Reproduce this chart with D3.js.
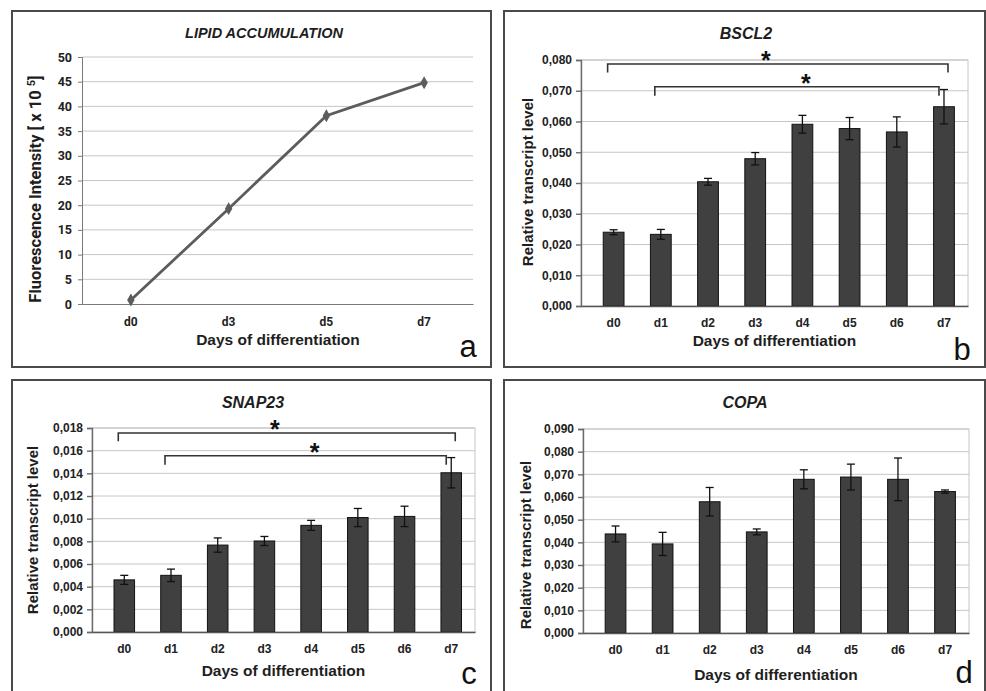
<!DOCTYPE html>
<html>
<head>
<meta charset="utf-8">
<script src="https://d3js.org/d3.v7.min.js"></script>
<style>
  body { margin:0; background:#fff; }
  svg { display:block; }
  text { fill:#1e1e1e; }
  .arial { font-family: "Liberation Sans", Arial, sans-serif; font-weight: bold; }
  .calib { font-family: Roboto, "Liberation Sans", sans-serif; font-weight: bold; }
  .grid line { stroke:#c6c6c6; stroke-width:1; }
</style>
</head>
<body>
<script>
  // ---- data ----
  var lipidDays = ["d0", "d3", "d5", "d7"];
  var lipidValues = [0.8, 19.3, 38.1, 44.8];
  var lipidTicks = [0, 5, 10, 15, 20, 25, 30, 35, 40, 45, 50];

  var days = ["d0", "d1", "d2", "d3", "d4", "d5", "d6", "d7"];

  var bsclMean = [0.0240, 0.0233, 0.0404, 0.0479, 0.0591, 0.0577, 0.0566, 0.0648];
  var bsclErr  = [0.0008, 0.0016, 0.0011, 0.0020, 0.0029, 0.0036, 0.0049, 0.0056];
  var bsclTicks = [0, 0.01, 0.02, 0.03, 0.04, 0.05, 0.06, 0.07, 0.08];

  var snapMean = [0.00460, 0.00500, 0.00767, 0.00803, 0.00941, 0.01010, 0.01020, 0.01405];
  var snapErr  = [0.00040, 0.00055, 0.00063, 0.00040, 0.00044, 0.00080, 0.00090, 0.00134];
  var snapTicks = [0, 0.002, 0.004, 0.006, 0.008, 0.010, 0.012, 0.014, 0.016, 0.018];

  var copaMean = [0.0437, 0.0393, 0.0579, 0.0446, 0.0678, 0.0688, 0.0678, 0.0624];
  var copaErr  = [0.0035, 0.0051, 0.0063, 0.0013, 0.0042, 0.0057, 0.0094, 0.0007];
  var copaTicks = [0, 0.01, 0.02, 0.03, 0.04, 0.05, 0.06, 0.07, 0.08, 0.09];

  // significance brackets: [from, to, level, leg end]
  var bsclSig = [["d0", "d7", 0.0787, 0.0759], ["d1", "d7", 0.0713, 0.0684]];
  var snapSig = [["d0", "d7", 0.01756, 0.01682], ["d1", "d7", 0.01555, 0.01475]];

  var W = 986, H = 691;
  var svg = d3.select("body").append("svg").attr("width", W).attr("height", H);

  var comma = function(v) { return d3.format(".3f")(v).replace(".", ","); };

  function frame(box, letter, lx, ly) {
    svg.append("rect")
      .attr("x", box[0]).attr("y", box[1])
      .attr("width", box[2] - box[0]).attr("height", box[3] - box[1])
      .attr("fill", "none").attr("stroke", "#4a4a4a").attr("stroke-width", 2);
    svg.append("text")
      .attr("x", lx).attr("y", ly)
      .attr("text-anchor", "middle")
      .style("font-family", "'Liberation Sans', Arial, sans-serif")
      .style("font-size", "31px").style("fill", "#111")
      .text(letter);
  }

  // ---- panel a : line chart ----
  (function() {
    frame([12, 11, 491, 367], "a", 468, 357);
    var x = d3.scaleBand().domain(lipidDays).range([82, 473]);
    var y = d3.scaleLinear().domain([0, 50]).range([304, 57]);

    svg.append("g").attr("class", "grid")
      .selectAll("line").data(lipidTicks.slice(1)).enter().append("line")
      .attr("x1", 82).attr("x2", 473)
      .attr("y1", d => y(d)).attr("y2", d => y(d));

    var ya = svg.append("g").attr("transform", "translate(82,0)")
      .call(d3.axisLeft(y).tickValues(lipidTicks).tickSize(4).tickPadding(6));
    ya.selectAll("path, line").attr("stroke", "#7a7a7a");
    ya.selectAll("text").attr("class", "calib").style("font-size", "12.5px").style("fill", "#222");

    var xa = svg.append("g").attr("transform", "translate(0,304)")
      .call(d3.axisBottom(x).tickSize(0).tickPadding(13));
    xa.select("path").attr("stroke", "#7a7a7a");
    xa.selectAll("text").attr("class", "calib").style("font-size", "12px").style("fill", "#222");

    var line = d3.line().x((d, i) => x(lipidDays[i]) + x.bandwidth() / 2).y(d => y(d));
    svg.append("path").datum(lipidValues)
      .attr("d", line).attr("fill", "none")
      .attr("stroke", "#5c5c5c").attr("stroke-width", 2.8);
    svg.selectAll(".mk").data(lipidValues).enter().append("path")
      .attr("class", "mk")
      .attr("d", d3.symbol(d3.symbolDiamond, 48))
      .attr("transform", (d, i) => "translate(" + (x(lipidDays[i]) + x.bandwidth() / 2) + "," + y(d) + ")")
      .attr("fill", "#5c5c5c");

    svg.append("text").attr("class", "arial")
      .attr("x", 264).attr("y", 38).attr("text-anchor", "middle")
      .style("font-size", "14.5px").style("font-style", "italic")
      .text("LIPID ACCUMULATION");

    var yl = svg.append("text").attr("class", "calib")
      .attr("transform", "translate(41,189) rotate(-90)")
      .attr("text-anchor", "middle").style("font-size", "16.5px");
    yl.append("tspan").text("Fluorescence Intensity [ x 10 ");
    yl.append("tspan").attr("dy", -6).style("font-size", "11px").text("5");
    yl.append("tspan").attr("dy", 6).text("]");

    svg.append("text").attr("class", "arial")
      .attr("x", 278).attr("y", 345).attr("text-anchor", "middle")
      .style("font-size", "15.5px").text("Days of differentiation");
  })();

  // ---- bar panels ----
  function barPanel(p) {
    frame(p.box, p.letter, p.lx, p.ly);
    var x = d3.scaleBand().domain(days).range([p.x0, p.x1]).paddingInner(0.56).paddingOuter(0.38).align(0.62);
    var y = d3.scaleLinear().domain([0, p.ticks[p.ticks.length - 1]]).range([p.y0, p.y1]);

    svg.append("rect")
      .attr("x", p.x0).attr("y", p.y1)
      .attr("width", p.x1 - p.x0).attr("height", p.y0 - p.y1)
      .attr("fill", "none").attr("stroke", "#c6c6c6");

    svg.append("g").attr("class", "grid")
      .selectAll("line").data(p.ticks.slice(1)).enter().append("line")
      .attr("x1", p.x0).attr("x2", p.x1)
      .attr("y1", d => y(d)).attr("y2", d => y(d));

    var ya = svg.append("g").attr("transform", "translate(" + p.x0 + ",0)")
      .call(d3.axisLeft(y).tickValues(p.ticks).tickFormat(comma).tickSize(5).tickPadding(4));
    ya.selectAll("path, line").attr("stroke", "#6a6a6a").attr("stroke-width", 1.4);
    ya.selectAll("text").attr("class", "arial").style("font-size", "12px").style("fill", "#222");

    svg.selectAll(null).data(p.mean).enter().append("rect")
      .attr("x", (d, i) => x(days[i]))
      .attr("width", x.bandwidth())
      .attr("y", d => y(d))
      .attr("height", d => p.y0 - y(d))
      .attr("fill", "#404040").attr("stroke", "#111").attr("stroke-width", 1);

    var xa = svg.append("g").attr("transform", "translate(0," + p.y0 + ")")
      .call(d3.axisBottom(x).tickSize(0).tickPadding(12));
    xa.select("path").attr("stroke", "#555").attr("stroke-width", 1.6);
    xa.selectAll("text").attr("class", "arial").style("font-size", "12px").style("fill", "#222");

    var cx = (d, i) => x(days[i]) + x.bandwidth() / 2;
    var eb = svg.selectAll(null).data(p.mean).enter().append("g");
    eb.append("line")
      .attr("x1", cx).attr("x2", cx)
      .attr("y1", (d, i) => y(d + p.err[i])).attr("y2", (d, i) => y(d - p.err[i]));
    eb.append("line")
      .attr("x1", (d, i) => cx(d, i) - 4).attr("x2", (d, i) => cx(d, i) + 4)
      .attr("y1", (d, i) => y(d + p.err[i])).attr("y2", (d, i) => y(d + p.err[i]));
    eb.append("line")
      .attr("x1", (d, i) => cx(d, i) - 4).attr("x2", (d, i) => cx(d, i) + 4)
      .attr("y1", (d, i) => y(d - p.err[i])).attr("y2", (d, i) => y(d - p.err[i]));
    eb.selectAll("line").attr("stroke", "#111").attr("stroke-width", 1.3);

    (p.sig || []).forEach(function(s, k) {
      var xa0 = x(s[0]) + x.bandwidth() / 2 - 6;
      var xa1 = x(s[1]) + x.bandwidth() / 2 + (k === 0 ? 4 : -5);
      svg.append("path")
        .attr("d", "M" + xa0 + "," + y(s[3]) + "V" + y(s[2]) + "H" + xa1 + "V" + y(s[3]))
        .attr("fill", "none").attr("stroke", "#333").attr("stroke-width", 1.6);
      svg.append("text").attr("class", "arial")
        .attr("x", (xa0 + xa1) / 2 + (k === 0 ? -13 : 8))
        .attr("y", y(s[2]) + 5)
        .attr("text-anchor", "middle")
        .style("font-size", "25px").style("font-style", "italic").style("fill", "#111")
        .text("*");
    });

    svg.append("text").attr("class", "arial")
      .attr("x", p.tx).attr("y", p.ty).attr("text-anchor", "middle")
      .style("font-size", "16px").style("font-style", "italic")
      .text(p.title);

    svg.append("text").attr("class", "arial")
      .attr("transform", "translate(" + p.ylx + "," + p.yly + ") rotate(-90)")
      .attr("text-anchor", "middle").style("font-size", "15px")
      .text("Relative transcript level");

    svg.append("text").attr("class", "arial")
      .attr("x", (p.x0 + p.x1) / 2).attr("y", p.xty).attr("text-anchor", "middle")
      .style("font-size", "15.5px").text("Days of differentiation");
  }

  barPanel({ box: [504, 11, 985, 367], letter: "b", lx: 962, ly: 360,
    x0: 581, x1: 968, y0: 306, y1: 60, ticks: bsclTicks, mean: bsclMean, err: bsclErr, sig: bsclSig,
    title: "BSCL2", tx: 746, ty: 39, ylx: 533, yly: 182, xty: 346 });

  barPanel({ box: [12, 380, 491, 693], letter: "c", lx: 469, ly: 684,
    x0: 92, x1: 475, y0: 632, y1: 428, ticks: snapTicks, mean: snapMean, err: snapErr, sig: snapSig,
    title: "SNAP23", tx: 253, ty: 408, ylx: 38, yly: 530, xty: 676 });

  barPanel({ box: [504, 380, 985, 693], letter: "d", lx: 964, ly: 683,
    x0: 583, x1: 969, y0: 633, y1: 429, ticks: copaTicks, mean: copaMean, err: copaErr,
    title: "COPA", tx: 745, ty: 408, ylx: 531, yly: 545, xty: 680 });
</script>
</body>
</html>
